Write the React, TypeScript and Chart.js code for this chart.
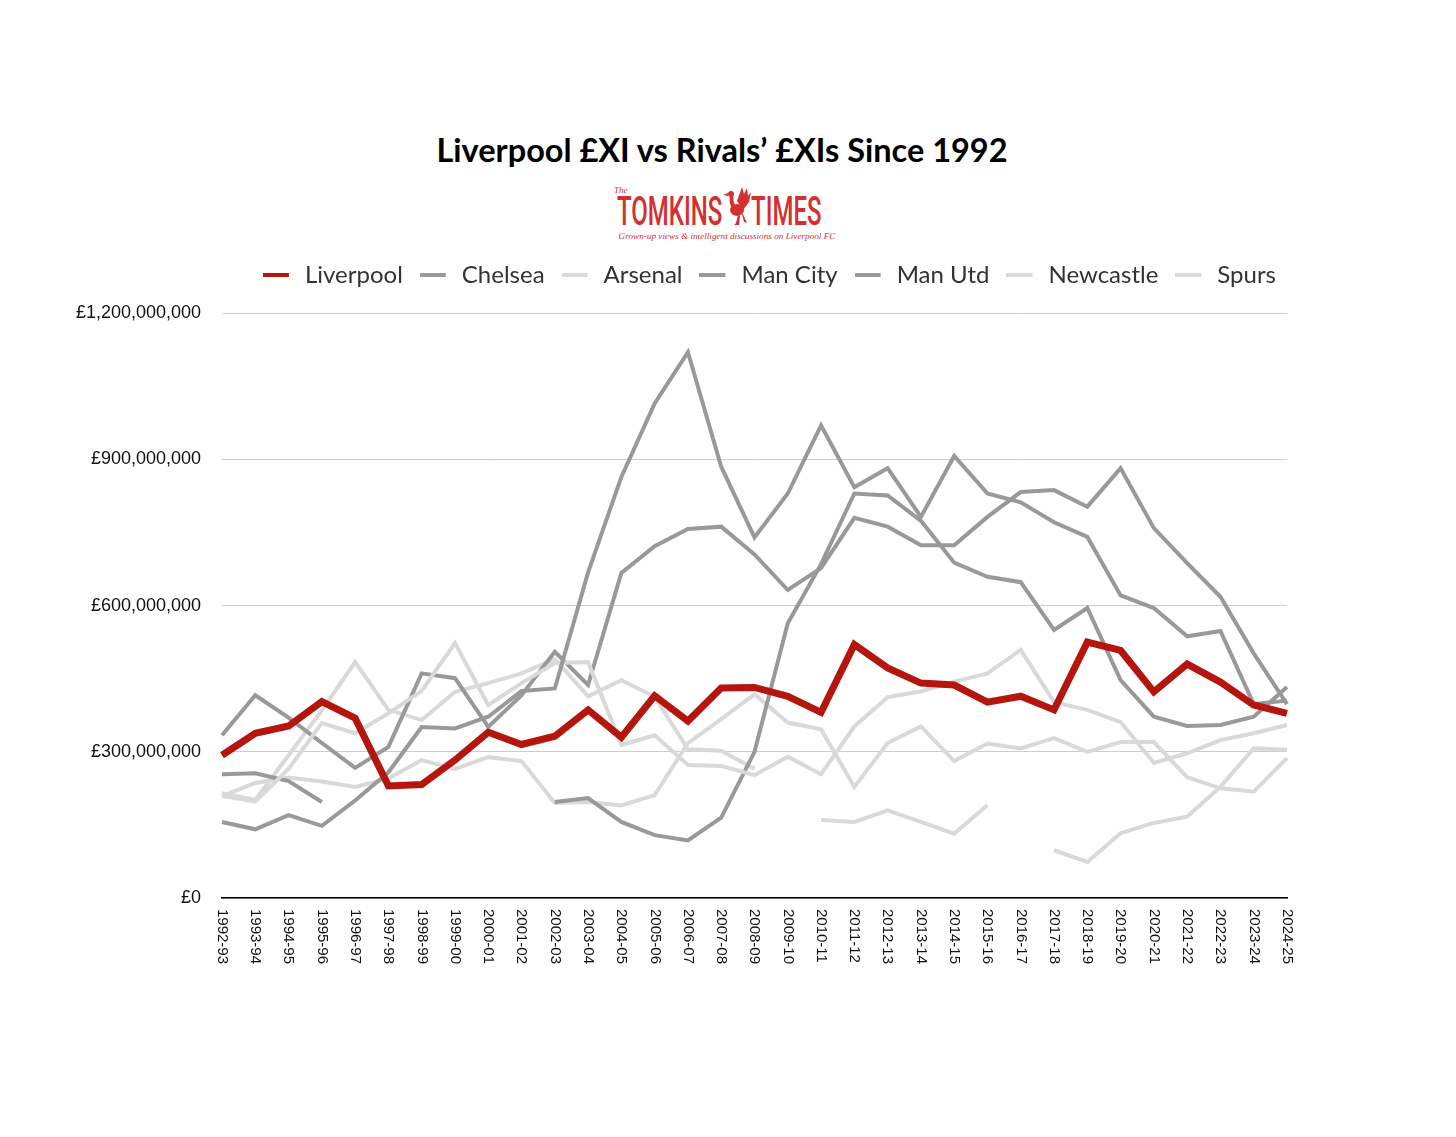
import React, { useEffect, useRef } from 'react';
import { Chart, registerables } from 'chart.js';

Chart.register(...registerables);

// Seasons on the x axis
const seasons = [
  '1992-93', '1993-94', '1994-95', '1995-96', '1996-97', '1997-98', '1998-99', '1999-00',
  '2000-01', '2001-02', '2002-03', '2003-04', '2004-05', '2005-06', '2006-07', '2007-08',
  '2008-09', '2009-10', '2010-11', '2011-12', '2012-13', '2013-14', '2014-15', '2015-16',
  '2016-17', '2017-18', '2018-19', '2019-20', '2020-21', '2021-22', '2022-23', '2023-24',
  '2024-25',
];

// £XI values in £ millions (null = not in the league that season)
const liverpool = [293, 338, 353, 403, 369, 230, 233, 283, 340, 315, 332, 386, 330, 415, 363, 431, 432, 414, 381, 520, 472, 441, 437, 402, 414, 386, 525, 508, 423, 480, 443, 396, 379];
const chelsea = [156, 141, 170, 148, 200, 258, 351, 348, 372, 425, 430, 668, 864, 1015, 1120, 885, 740, 830, 970, 843, 882, 782, 907, 830, 812, 771, 741, 621, 595, 537, 548, 398, 405];
const arsenal = [210, 198, 265, 359, 338, 379, 425, 523, 396, 441, 482, 484, 314, 334, 273, 271, 252, 290, 254, 352, 412, 424, 444, 461, 509, 402, 386, 361, 277, 297, 324, 338, 355];
const manCity = [254, 256, 240, 197, null, null, null, null, null, null, 197, 205, 156, 129, 118, 165, 300, 564, 685, 830, 826, 774, 688, 659, 648, 550, 595, 447, 372, 353, 355, 372, 433];
const manUtd = [334, 416, 370, 318, 267, 310, 461, 451, 351, 416, 505, 437, 667, 722, 757, 762, 705, 632, 677, 780, 762, 724, 724, 782, 833, 837, 803, 882, 759, 687, 618, 502, 398];
const newcastle = [215, 201, 293, 385, 484, 386, 365, 423, 441, 461, 490, 414, 447, 413, 305, 302, 265, null, 160, 156, 180, 156, 132, 191, null, 98, 74, 133, 154, 167, 228, 307, 304];
const spurs = [209, 236, 247, 239, 228, 245, 283, 265, 289, 281, 195, 197, 190, 211, 318, 367, 418, 360, 346, 228, 318, 352, 281, 317, 307, 328, 300, 320, 320, 248, 225, 218, 287];

// y axis ticks (in £)
const yTickValues = [0, 300000000, 600000000, 900000000, 1200000000];

const RED = '#B4150D';
const DARK = '#999999';
const LIGHT = '#D9D9D9';

const toPounds = (arr: (number | null)[]) => arr.map((v) => (v === null ? null : v * 1000000));

// legend marker: a 26px line inside a 30px-wide slot
const markerCache: Record<string, HTMLCanvasElement> = {};
function legendMarker(color: string) {
  if (!markerCache[color]) {
    const c = document.createElement('canvas');
    c.width = 30;
    c.height = 4;
    const g = c.getContext('2d');
    if (g) {
      g.fillStyle = color;
      g.fillRect(0, 0, 26, 4);
    }
    markerCache[color] = c;
  }
  return markerCache[color];
}

const verticalLabels = {
  id: 'verticalLabels',
  afterDraw(chart: any) {
    const xs = chart.scales.x;
    const ctx = chart.ctx;
    ctx.save();
    ctx.font = '15px "Liberation Sans", Arial, sans-serif';
    ctx.fillStyle = '#111111';
    ctx.textAlign = 'left';
    ctx.textBaseline = 'middle';
    for (let i = 0; i < chart.data.labels.length; i++) {
      const px = xs.getPixelForValue(i);
      ctx.save();
      ctx.translate(px, xs.top + 11);
      ctx.rotate(Math.PI / 2);
      ctx.fillText(String(xs.getLabelForValue(i)), 0, 0);
      ctx.restore();
    }
    ctx.restore();
  },
};

function LineChart() {
  const ref = useRef<HTMLCanvasElement | null>(null);
  useEffect(() => {
    if (!ref.current) return;
    const mk = (label: string, data: (number | null)[], color: string, width: number) => ({
      label,
      data: toPounds(data),
      borderColor: color,
      backgroundColor: color,
      borderWidth: width,
      pointRadius: 0,
      pointHoverRadius: 0,
      tension: 0,
      spanGaps: false,
      borderJoinStyle: 'miter' as const,
      yAxisID: 'y',
    });
    const chart = new Chart(ref.current, {
      type: 'line',
      data: {
        labels: seasons,
        datasets: [
          mk('Liverpool', liverpool, RED, 7),
          mk('Chelsea', chelsea, DARK, 4),
          mk('Arsenal', arsenal, LIGHT, 4),
          mk('Man City', manCity, DARK, 4),
          mk('Man Utd', manUtd, DARK, 4),
          mk('Newcastle', newcastle, LIGHT, 4),
          mk('Spurs', spurs, LIGHT, 4),
        ],
      },
      plugins: [verticalLabels],
      options: {
        responsive: false,
        animation: false,
        devicePixelRatio: 1,
        layout: { padding: { left: 0, right: 155, top: 0, bottom: 0 } },
        plugins: {
          legend: {
            position: 'top',
            align: 'end',
            labels: {
              usePointStyle: true,
              pointStyleWidth: 30,
              padding: 17,
              color: '#333333',
              font: { family: 'Lato, "Noto Sans", sans-serif', size: 24 },
              generateLabels: (c: any) =>
                Chart.defaults.plugins.legend.labels.generateLabels(c).map((it: any) => ({
                  ...it,
                  pointStyle: legendMarker(it.strokeStyle),
                  lineWidth: 0,
                })),
            },
          },
          subtitle: {
            display: true,
            text: '',
            weight: 500,
            font: { size: 1 },
            padding: { top: 15, bottom: 0 },
          } as any,
          tooltip: { enabled: false },
        },
        scales: {
          x: {
            type: 'category',
            offset: false,
            grid: { display: false },
            border: { display: true, color: '#000000', width: 1.5 },
            ticks: { display: false, autoSkip: false },
            afterFit: (s: any) => {
              s.height = 90;
            },
          },
          y: {
            min: 0,
            max: 1200000000,
            afterBuildTicks: (s: any) => {
              s.ticks = yTickValues.map((v) => ({ value: v }));
            },
            grid: { color: '#CCCCCC', lineWidth: 1, drawTicks: false },
            border: { display: false },
            ticks: {
              padding: 21,
              color: '#111111',
              font: { family: '"Liberation Sans", Arial, sans-serif', size: 18 },
              callback: (v: any) => '£' + Number(v).toLocaleString('en-US'),
            },
            afterFit: (s: any) => {
              s.width = 214;
            },
          },
          yRight: {
            type: 'linear',
            position: 'right',
            min: 0,
            max: 1200000000,
            grid: { display: false, drawTicks: false },
            border: { display: false },
            ticks: { display: false },
            afterFit: (s: any) => {
              s.width = 6;
            },
          },
        },
      },
    } as any);
    return () => chart.destroy();
  }, []);
  return (
    <canvas
      ref={ref}
      width={1440}
      height={742}
      style={{ position: 'absolute', left: 0, top: 238, width: 1440, height: 742 }}
    />
  );
}

function LiverBird() {
  return (
    <svg width="30" height="42" viewBox="0 0 30 42" style={{ position: 'absolute', left: 714, top: 177 }}>
      <g fill="#D3302F">
        <path d="M15 16 L20 2 L22 9 L25 3 L26 11 L29 7 L27 17 L21 25 Z" />
        <ellipse cx="15" cy="25" rx="7" ry="6" />
        <path d="M9 22 Q7 15 8 10 L11 10 Q11 16 13 20 Z" />
        <circle cx="9" cy="9" r="3" />
        <path d="M6 8 L1 10 L6 11 Z" />
        <path d="M16 30 L14 38 L12 40 L17 40 L18 31 Z" />
        <path d="M20 29 L22 37 L25 38 L21 29 Z" />
      </g>
    </svg>
  );
}

const logoWord = {
  position: 'absolute' as const,
  top: 180,
  fontFamily: 'Roboto, sans-serif',
  fontWeight: 500,
  fontSize: 40,
  lineHeight: '48px',
  color: '#D3302F',
  transform: 'scaleX(0.6)',
  transformOrigin: 'left top',
  whiteSpace: 'nowrap' as const,
};

export default function App() {
  return (
    <div
      style={{
        position: 'relative',
        width: 1440,
        height: 1121,
        background: '#ffffff',
        overflow: 'hidden',
      }}
    >
      <div
        style={{
          position: 'absolute',
          left: 0,
          top: 122,
          width: 1428,
          textAlign: 'center',
          fontFamily: 'Lato, "Noto Sans", sans-serif',
          fontWeight: 700,
          fontSize: 32.5,
          lineHeight: '40px',
          color: '#000000',
        }}
      >
        Liverpool £XI vs Rivals’ £XIs Since 1992
      </div>
      <div
        style={{
          position: 'absolute',
          left: 606,
          top: 177,
          fontFamily: '"Liberation Serif", serif',
          fontStyle: 'italic',
          fontSize: 9,
          color: '#D3302F',
        }}
      >
        The
      </div>
      <div style={{ ...logoWord, left: 609 }}>TOMKINS</div>
      <LiverBird />
      <div style={{ ...logoWord, left: 743 }}>TIMES</div>
      <div
        style={{
          position: 'absolute',
          left: 0,
          top: 223,
          width: 1438,
          textAlign: 'center',
          fontFamily: '"Liberation Serif", serif',
          fontStyle: 'italic',
          fontSize: 9.2,
          color: '#D3302F',
          whiteSpace: 'nowrap',
        }}
      >
        Grown-up views &amp; intelligent discussions on Liverpool FC
      </div>
      <LineChart />
    </div>
  );
}
